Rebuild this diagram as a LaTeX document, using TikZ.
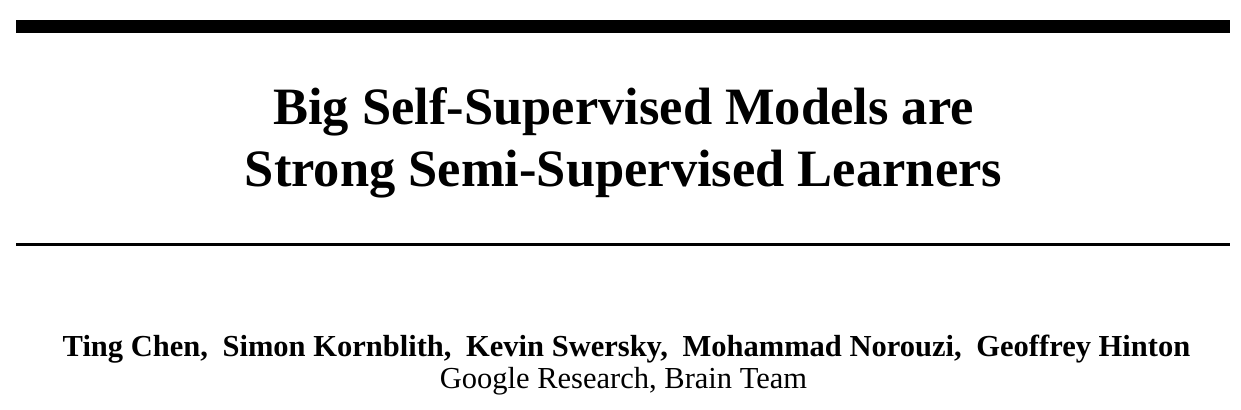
\documentclass[tikz,border=0pt]{standalone}
\usepackage{fontspec}
\setmainfont{Liberation Serif}

\begin{document}
\begin{tikzpicture}[x=0.3277pt, y=-0.3277pt]
        \tikzstyle{title_line}=[anchor=base, inner sep=0pt, font=\fontsize{17.2}{20}\selectfont\bfseries];
        \tikzstyle{author_line}=[anchor=base, inner sep=0pt, font=\fontsize{10}{12}\selectfont\bfseries];
        \tikzstyle{affil_line}=[anchor=base, inner sep=0pt, font=\fontsize{10}{12}\selectfont];
        \newcommand{\authgap}{\hskip 4.8pt}
        \useasboundingbox (0, 0) rectangle (1241, 409);

        % rules
        \draw[line width=4.26pt] (16, 26.5) -- (1230, 26.5);
        \draw[line width=1pt] (16, 244.8) -- (1230, 244.8);

        % title
        \node[title_line] (title1) at (623.5, 124) {Big Self-Supervised Models are};
        \node[title_line] (title2) at (623.5, 186) {Strong Semi-Supervised Learners};

        % authors
        \node[author_line] (authors) at (626.5, 356.7) {Ting Chen,\authgap Simon Kornblith,\authgap Kevin Swersky,\authgap Mohammad Norouzi,\authgap Geoffrey Hinton};
        \node[affil_line] (affil) at (623.5, 388) {Google Research, Brain Team};
\end{tikzpicture}
\end{document}
